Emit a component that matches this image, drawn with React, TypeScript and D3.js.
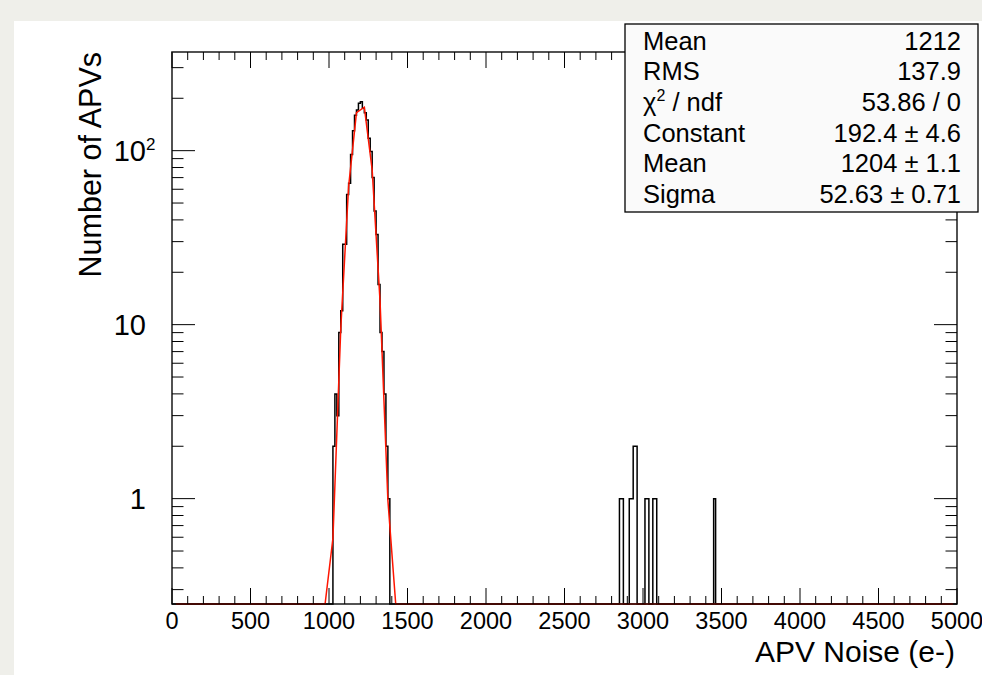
import React from "react";
import * as d3 from "d3";

// ---------- data ----------
const BIN_WIDTH = 12.5;
const X_DOMAIN = [0, 5000];
const Y_DOMAIN = [0.248, 369];

const peakBinStarts = [
  1025, 1037.5, 1050, 1062.5, 1075, 1087.5, 1100, 1112.5, 1125, 1137.5, 1150, 1162.5, 1175, 1187.5,
  1200, 1212.5, 1225, 1237.5, 1250, 1262.5, 1275, 1287.5, 1300, 1312.5, 1325, 1337.5, 1350, 1362.5, 1375,
];
const peakCounts = [
  2, 4, 3, 9, 12, 29, 29, 56, 65, 95, 130, 160, 171, 187,
  191, 175, 165, 150, 118, 99, 70, 45, 33, 17, 9, 7, 4, 2, 1,
];
const outlierBinStarts = [2850, 2862.5, 2912.5, 2925, 2937.5, 2950, 3012.5, 3025, 3062.5, 3075, 3450];
const outlierCounts = [1, 1, 1, 1, 2, 2, 1, 1, 1, 1, 1];

const xMajorTicks = [0, 500, 1000, 1500, 2000, 2500, 3000, 3500, 4000, 4500, 5000];
const xTickLabels = ["0", "500", "1000", "1500", "2000", "2500", "3000", "3500", "4000", "4500", "5000"];
const yMajorTicks = [1, 10, 100];
const yTickLabels = ["1", "10", "10"];
const yTickExponents = ["", "", "2"];

const statsLabels = ["Mean", "RMS", "χ2 / ndf", "Constant", "Mean", "Sigma"];
const statsValues = ["1212", "137.9", "53.86 / 0", "192.4 ± 4.6", "1204 ± 1.1", "52.63 ± 0.71"];

// Gaussian fit parameters (as shown in the stats box)
const FIT_CONSTANT = 192.4;
const FIT_MEAN = 1204;
const FIT_SIGMA = 52.63;
const FIT_NPX = 100;

const X_TITLE = "APV Noise (e-)";
const Y_TITLE = "Number of APVs";

// ---------- layout ----------
const W = 982;
const H = 675;
const F = { left: 172, right: 957, top: 52, bottom: 604 };
const FONT = "'Liberation Sans', Arial, Helvetica, sans-serif";

export default function App() {
  const x = d3.scaleLinear().domain(X_DOMAIN).range([F.left, F.right]);
  const y = d3.scaleLog().domain(Y_DOMAIN).range([F.bottom, F.top]);
  const yMin = Y_DOMAIN[0];

  // histogram bins
  const counts = new Map<number, number>();
  peakBinStarts.forEach((b, i) => counts.set(b, peakCounts[i]));
  outlierBinStarts.forEach((b, i) => counts.set(b, outlierCounts[i]));
  const nBins = Math.round((X_DOMAIN[1] - X_DOMAIN[0]) / BIN_WIDTH);
  const histPts: [number, number][] = [[X_DOMAIN[0], yMin]];
  for (let i = 0; i < nBins; i++) {
    const lo = X_DOMAIN[0] + i * BIN_WIDTH;
    const c = counts.get(lo) || 0;
    const v = Math.max(c, yMin);
    histPts.push([lo, v], [lo + BIN_WIDTH, v]);
  }
  histPts.push([X_DOMAIN[1], yMin]);
  const lineGen = d3
    .line<[number, number]>()
    .x((d) => x(d[0]))
    .y((d) => y(d[1]));
  const histPath = lineGen(histPts) || "";

  // fit function polyline
  const step = (X_DOMAIN[1] - X_DOMAIN[0]) / FIT_NPX;
  const fitPts: [number, number][] = d3.range(FIT_NPX).map((k) => {
    const xv = X_DOMAIN[0] + (k + 0.5) * step;
    const g = FIT_CONSTANT * Math.exp(-0.5 * ((xv - FIT_MEAN) / FIT_SIGMA) ** 2);
    return [xv, Math.max(g, yMin)];
  });
  const fitPath = lineGen(fitPts) || "";

  // ticks
  const xMinorTicks = d3.range(X_DOMAIN[0], X_DOMAIN[1] + 1, 100).filter((v) => v % 500 !== 0);
  const yMinorTicks: number[] = [];
  for (let e = -1; e <= 2; e++) {
    for (let k = 2; k <= 9; k++) {
      const v = k * Math.pow(10, e);
      if (v >= Y_DOMAIN[0] && v <= Y_DOMAIN[1]) yMinorTicks.push(v);
    }
  }
  const XMAJ = 16, XMIN = 8, YMAJ = 23, YMIN = 11.5;

  const statX0 = 625, statY0 = 24, statW = 353, statH = 188;
  const rowBase0 = 49.5, rowStep = 30.7;

  return (
    <svg
      width={W}
      height={H}
      viewBox={`0 0 ${W} ${H}`}
      style={{ position: "fixed", left: 0, top: 0, display: "block" }}
      fontFamily={FONT}
    >
      <defs>
        <clipPath id="frameClip">
          <rect x={F.left} y={F.top} width={F.right - F.left} height={F.bottom - F.top + 1} />
        </clipPath>
      </defs>
      <rect x={0} y={0} width={W} height={H} fill="#efefea" />
      <rect x={14} y={21} width={W - 14} height={H - 21} fill="#ffffff" />

      {/* histogram */}
      <path d={histPath} fill="none" stroke="#000" strokeWidth={1.5} clipPath="url(#frameClip)" />
      {/* fit */}
      <path d={fitPath} fill="none" stroke="#ff1500" strokeWidth={1.5} clipPath="url(#frameClip)" />

      {/* frame */}
      <rect
        x={F.left}
        y={F.top}
        width={F.right - F.left}
        height={F.bottom - F.top}
        fill="none"
        stroke="#000"
        strokeOpacity={0.85}
        strokeWidth={1.6}
      />

      {/* x ticks bottom & top */}
      {xMajorTicks.map((v) => (
        <g key={"xM" + v} stroke="#000" strokeWidth={1}>
          <line x1={x(v)} x2={x(v)} y1={F.bottom} y2={F.bottom - XMAJ} />
          <line x1={x(v)} x2={x(v)} y1={F.top} y2={F.top + XMAJ} />
        </g>
      ))}
      {xMinorTicks.map((v) => (
        <g key={"xm" + v} stroke="#000" strokeWidth={1}>
          <line x1={x(v)} x2={x(v)} y1={F.bottom} y2={F.bottom - XMIN} />
          <line x1={x(v)} x2={x(v)} y1={F.top} y2={F.top + XMIN} />
        </g>
      ))}
      {/* y ticks left & right */}
      {yMajorTicks.map((v) => (
        <g key={"yM" + v} stroke="#000" strokeWidth={1}>
          <line x1={F.left} x2={F.left + YMAJ} y1={y(v)} y2={y(v)} />
          <line x1={F.right} x2={F.right - YMAJ} y1={y(v)} y2={y(v)} />
        </g>
      ))}
      {yMinorTicks.map((v) => (
        <g key={"ym" + v} stroke="#000" strokeWidth={1}>
          <line x1={F.left} x2={F.left + YMIN} y1={y(v)} y2={y(v)} />
          <line x1={F.right} x2={F.right - YMIN} y1={y(v)} y2={y(v)} />
        </g>
      ))}

      {/* x tick labels */}
      {xMajorTicks.map((v, i) => (
        <text key={"xl" + v} x={x(v)} y={629} textAnchor="middle" fontSize={23.5} fill="#000">
          {xTickLabels[i]}
        </text>
      ))}
      {/* y tick labels */}
      {yMajorTicks.map((v, i) => (
        <g key={"yl" + v}>
          <text x={146} y={y(v) + 10.4} textAnchor="end" fontSize={29} fill="#000">
            {yTickLabels[i]}
          </text>
          {yTickExponents[i] && (
            <text x={146} y={y(v) - 1} textAnchor="start" fontSize={17} fill="#000">
              {yTickExponents[i]}
            </text>
          )}
        </g>
      ))}

      {/* axis titles */}
      <text x={955} y={662} textAnchor="end" fontSize={30} fill="#000">
        {X_TITLE}
      </text>
      <text
        transform={`translate(101,${F.top}) rotate(-90)`}
        textAnchor="end"
        fontSize={30.5}
        fill="#000"
      >
        {Y_TITLE}
      </text>

      {/* stats box */}
      <rect x={statX0} y={statY0} width={statW} height={statH} fill="#fafafa" stroke="#000" strokeWidth={1.3} />
      {statsLabels.map((lab, i) => {
        const by = rowBase0 + i * rowStep;
        const isChi = lab.startsWith("χ2");
        return (
          <g key={"st" + i}>
            {isChi ? (
              <text x={643} y={by} fontSize={25.5} fill="#000">
                <tspan>χ</tspan>
                <tspan dy={-10} fontSize={16}>2</tspan>
                <tspan dy={10}>{lab.slice(2)}</tspan>
              </text>
            ) : (
              <text x={643} y={by} fontSize={25.5} fill="#000">
                {lab}
              </text>
            )}
            <text x={961} y={by} textAnchor="end" fontSize={25.5} fill="#000">
              {statsValues[i]}
            </text>
          </g>
        );
      })}
    </svg>
  );
}
